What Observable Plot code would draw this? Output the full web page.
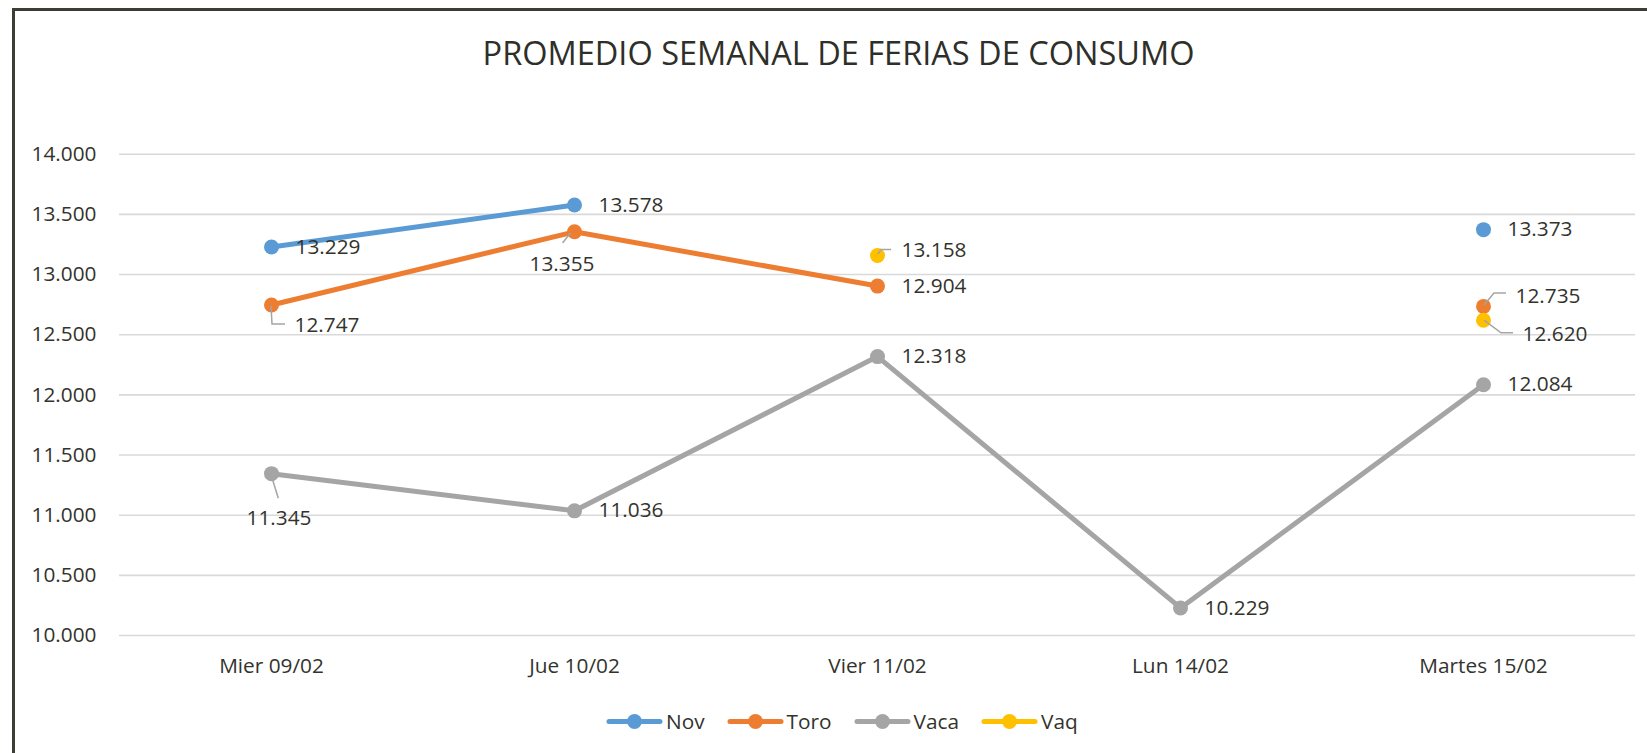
<!DOCTYPE html>
<html>
<head>
<meta charset="utf-8">
<script src="https://cdn.jsdelivr.net/npm/d3@7"></script>
<script src="https://cdn.jsdelivr.net/npm/@observablehq/plot@0.6"></script>
<style>
  body { margin: 0; background: #fff; }
  #wrap { position: relative; width: 1647px; height: 753px; overflow: hidden; background: #fff;
          font-family: "Open Sans", sans-serif; color: #33332d; }
  #frame { position: absolute; left: 12px; top: 8px; width: 1700px; height: 800px; box-sizing: border-box;
           border-top: 3px solid #3d3d35; border-left: 3px solid #3d3d35; pointer-events: none; }
  #title { position: absolute; left: 0; top: 0; width: 1677px; height: 104px; display: flex;
           align-items: center; justify-content: center; font-size: 32.5px; color: #2f2f2a; }
  #chart { position: absolute; left: 0; top: 110px; }
  #legend { position: absolute; left: 606px; top: 690px; height: 62px; display: flex; align-items: center;
            font-size: 20.8px; color: #33332d; }
  .item { display: flex; align-items: center; margin-right: 22px; }
  .item svg { margin-right: 3px; }
</style>
</head>
<body>
<div id="wrap">
  <div id="title">PROMEDIO SEMANAL DE FERIAS DE CONSUMO</div>
  <div id="chart"></div>
  <div id="legend"></div>
  <div id="frame"></div>
</div>
<script>
// ---- Data ----
const categories = ["Mier 09/02", "Jue 10/02", "Vier 11/02", "Lun 14/02", "Martes 15/02"];
const seriesNames = ["Nov", "Toro", "Vaca", "Vaq"];
const nov  = [13229, 13578, null, null, 13373];
const toro = [12747, 13355, 12904, null, 12735];
const vaca = [11345, 11036, 12318, 10229, 12084];
const vaq  = [null, null, 13158, null, 12620];
const yTicks = [10000, 10500, 11000, 11500, 12000, 12500, 13000, 13500, 14000];

// ---- Styling / layout ----
const colors = ["#5B9BD5", "#ED7D31", "#A5A5A5", "#FFC000"];
const textColor = "#33332d";
// label placement (pixel offsets from the point) and leader lines for moved labels
const labelLayout = {
  "Toro|Mier 09/02":   {dx: 23, dy: 20, anchor: "start", leader: [[0, 1], [1, 19.5], [14, 19.5]]},
  "Toro|Jue 10/02":    {dx: -12.5, dy: 33, anchor: "middle", leader: [[-3.5, 1.7], [-11.5, 11.7]]},
  "Vaq|Vier 11/02":    {dx: 24, dy: -5, anchor: "start", leader: [[1, -1], [4, -5.5], [14, -5.5]]},
  "Vaca|Mier 09/02":   {dx: 7.5, dy: 45, anchor: "middle", leader: [[1.7, 6.8], [7.3, 25]]},
  "Toro|Martes 15/02": {dx: 32, dy: -10, anchor: "start", leader: [[1, -1], [11, -13], [23, -13]]},
  "Vaq|Martes 15/02":  {dx: 39, dy: 14, anchor: "start", leader: [[1, 0.3], [18, 13], [30, 13]]}
};
const defaultLabel = {dx: 24, dy: 0, anchor: "start", leader: null};

const seriesValues = {Nov: nov, Toro: toro, Vaca: vaca, Vaq: vaq};
const rows = [];
for (const s of seriesNames) {
  categories.forEach((c, i) => rows.push({series: s, cat: c, value: seriesValues[s][i]}));
}
const pts = rows.filter(d => d.value != null);
const fmt = v => d3.format(",.0f")(v).replace(/,/g, ".");
const key = d => d.series + "|" + d.cat;
const layoutOf = d => labelLayout[key(d)] || defaultLabel;

const labelMarks = pts.map(d => {
  const L = layoutOf(d);
  return Plot.text([d], {x: "cat", y: "value", text: d => fmt(d.value), dx: L.dx, dy: L.dy,
    textAnchor: L.anchor, fill: textColor, fontSize: 20.8});
});

const leaders = (index, scales) => {
  const g = d3.create("svg:g").attr("fill", "none").attr("stroke", "#A5A5A5").attr("stroke-width", 1.5);
  for (const d of pts) {
    const L = layoutOf(d);
    if (!L.leader) continue;
    const cx = scales.x(d.cat), cy = scales.y(d.value);
    g.append("path").attr("d", d3.line()(L.leader.map(([a, b]) => [cx + a, cy + b])));
  }
  return g.node();
};

const plot = Plot.plot({
  width: 1647,
  height: 580,
  marginLeft: 119,
  marginRight: 12,
  marginTop: 43.7,
  marginBottom: 55,
  style: {fontFamily: "'Open Sans', sans-serif", fontSize: "20.8px", color: textColor, background: "transparent"},
  x: {type: "point", domain: categories, padding: 0.5, label: null},
  y: {domain: [10000, 14000], label: null},
  color: {domain: seriesNames, range: colors},
  marks: [
    Plot.gridY(yTicks, {stroke: "#d9d9d9", strokeOpacity: 1, strokeWidth: 1.6}),
    Plot.axisY(yTicks, {tickSize: 0, tickPadding: 23, tickFormat: fmt, fontSize: 20.8, fill: textColor}),
    Plot.axisX({tickSize: 0, tickPadding: 23, fontSize: 20.8, fill: textColor}),
    ...seriesNames.flatMap(s => [
      Plot.line(rows.filter(d => d.series === s), {x: "cat", y: "value", stroke: "series",
        strokeWidth: 5, strokeLinecap: "round", strokeLinejoin: "round"}),
      Plot.dot(pts.filter(d => d.series === s), {x: "cat", y: "value", fill: "series", r: 7.5, stroke: null})
    ]),
    leaders,
    ...labelMarks
  ]
});
document.getElementById("chart").appendChild(plot);

// legend
const legend = d3.select("#legend");
seriesNames.forEach((s, i) => {
  const item = legend.append("div").attr("class", "item");
  const svg = item.append("svg").attr("width", 57).attr("height", 17);
  svg.append("line").attr("x1", 3).attr("x2", 54).attr("y1", 8.5).attr("y2", 8.5)
    .attr("stroke", colors[i]).attr("stroke-width", 5).attr("stroke-linecap", "round");
  svg.append("circle").attr("cx", 28.5).attr("cy", 8.5).attr("r", 7.5).attr("fill", colors[i]);
  item.append("span").text(s);
});
</script>
</body>
</html>
